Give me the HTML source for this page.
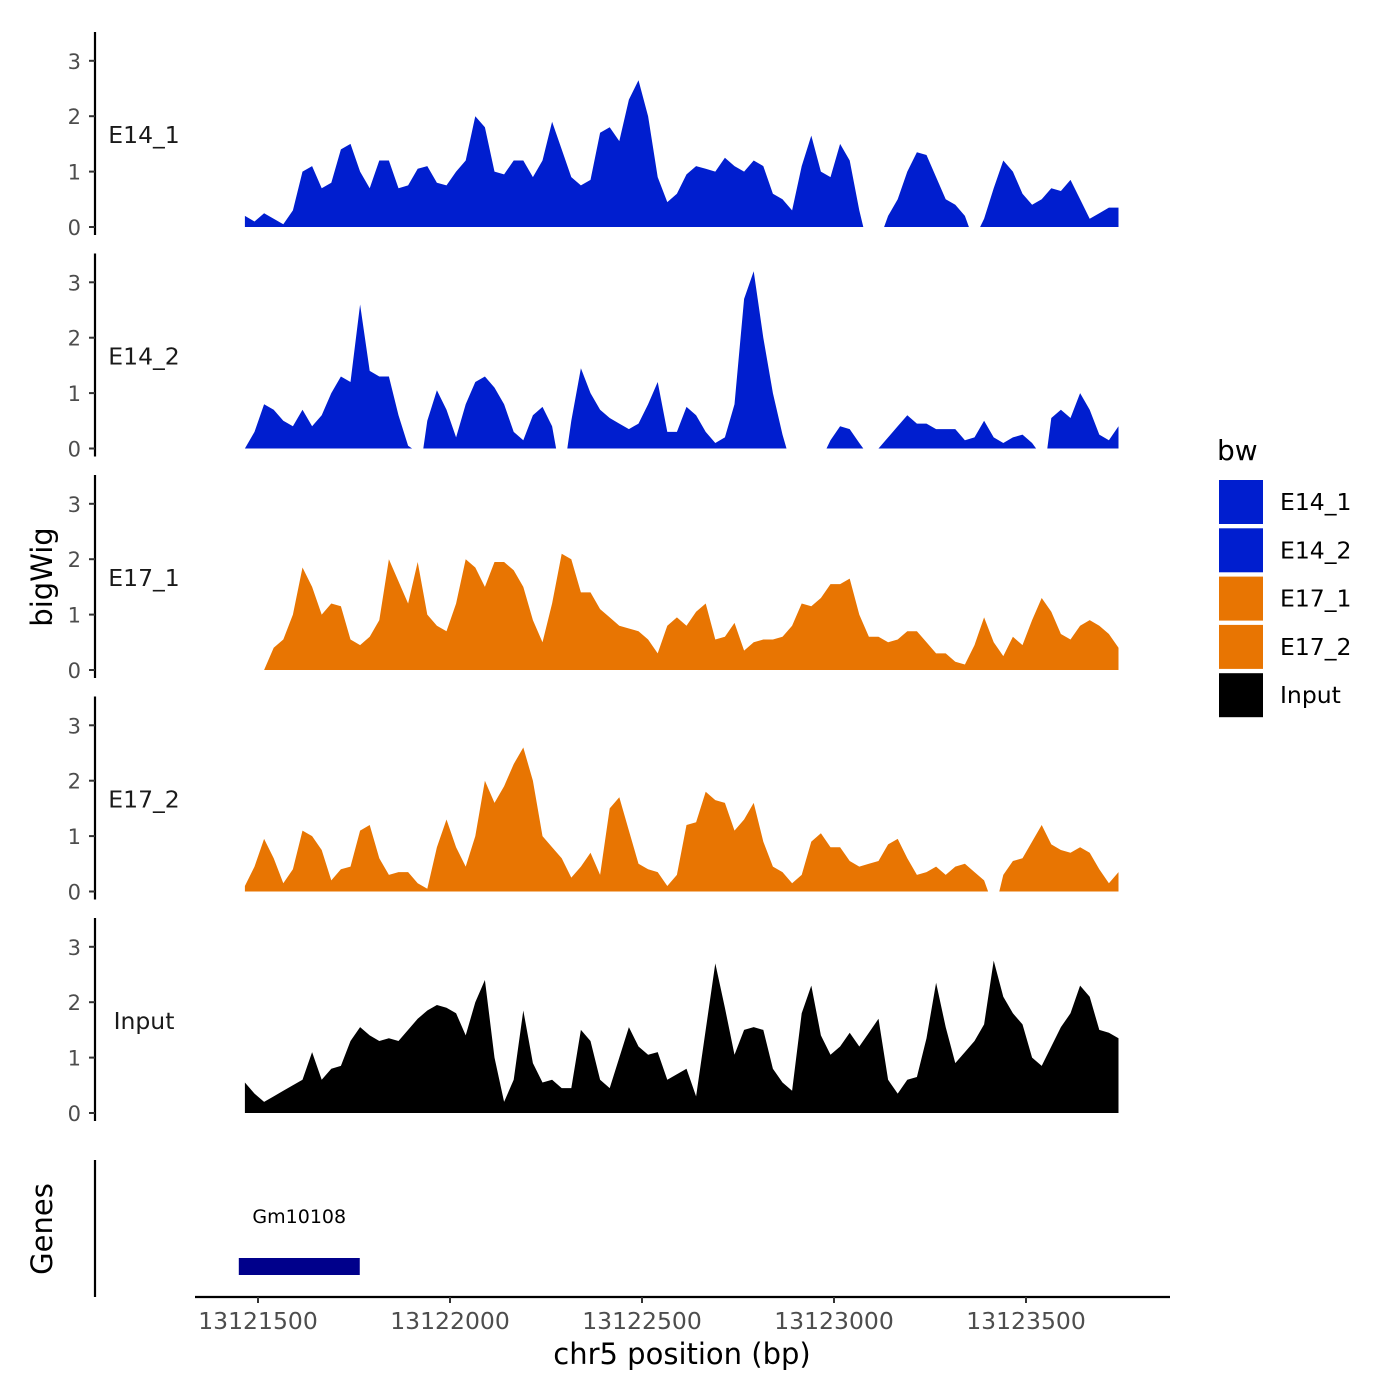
<!DOCTYPE html>
<html><head><meta charset="utf-8"><style>
body{margin:0;background:#fff}
svg{display:block;font-family:"DejaVu Sans","Liberation Sans",sans-serif}
</style></head><body>
<svg id="chart" width="1400" height="1400" viewBox="0 0 1400 1400"></svg>
<script>
const binStart = 13121466;
const binStep = 25;
const samples = ["E14_1","E14_2","E17_1","E17_2","Input"];
const colors = ["#001ECF","#001ECF","#E87502","#E87502","#000000"];
const yTicks = [0,1,2,3];
const xTicks = [13121500,13122000,13122500,13123000,13123500];
const geneStart = 13121450, geneEnd = 13121765, geneName = "Gm10108";
const e14_1 = [0.2,0.1,0.25,0.15,0.05,0.3,1.0,1.1,0.7,0.8,1.4,1.5,1.0,0.7,1.2,1.2,0.7,0.75,1.05,1.1,0.8,0.75,1.0,1.2,2.0,1.8,1.0,0.95,1.2,1.2,0.9,1.2,1.9,1.4,0.9,0.75,0.85,1.7,1.8,1.55,2.3,2.65,2.0,0.9,0.45,0.6,0.95,1.1,1.05,1.0,1.25,1.1,1.0,1.2,1.1,0.6,0.5,0.3,1.1,1.65,1.0,0.9,1.5,1.2,0.3,null,null,0.2,0.5,1.0,1.35,1.3,0.9,0.5,0.4,0.2,null,0.15,0.7,1.2,1.0,0.6,0.4,0.5,0.7,0.65,0.85,0.5,0.15,0.25,0.35,0.35];
const e14_2 = [0,0.3,0.8,0.7,0.5,0.4,0.7,0.4,0.6,1.0,1.3,1.2,2.6,1.4,1.3,1.3,0.6,0.05,null,0.5,1.05,0.7,0.2,0.8,1.2,1.3,1.1,0.8,0.3,0.15,0.6,0.75,0.4,null,0.5,1.45,1.0,0.7,0.55,0.45,0.35,0.45,0.8,1.2,0.3,0.3,0.75,0.6,0.3,0.1,0.2,0.8,2.7,3.2,2.0,1.0,0.25,null,null,null,null,0.15,0.4,0.35,0.1,null,0,0.2,0.4,0.6,0.45,0.45,0.35,0.35,0.35,0.15,0.2,0.5,0.2,0.1,0.2,0.25,0.1,null,0.55,0.7,0.55,1.0,0.7,0.25,0.15,0.4];
const e17_1 = [0.25,null,0,0.4,0.55,1.0,1.85,1.5,1.0,1.2,1.15,0.55,0.45,0.6,0.9,2.0,1.6,1.2,1.95,1.0,0.8,0.7,1.2,2.0,1.85,1.5,1.95,1.95,1.8,1.5,0.9,0.5,1.2,2.1,2.0,1.4,1.4,1.1,0.95,0.8,0.75,0.7,0.55,0.3,0.8,0.95,0.8,1.05,1.2,0.55,0.6,0.85,0.35,0.5,0.55,0.55,0.6,0.8,1.2,1.15,1.3,1.55,1.55,1.65,1.0,0.6,0.6,0.5,0.55,0.7,0.7,0.5,0.3,0.3,0.15,0.1,0.45,0.95,0.5,0.25,0.6,0.45,0.9,1.3,1.05,0.65,0.55,0.8,0.9,0.8,0.65,0.4];
const e17_2 = [0.1,0.45,0.95,0.6,0.15,0.4,1.1,1.0,0.75,0.2,0.4,0.45,1.1,1.2,0.6,0.3,0.35,0.35,0.15,0.05,0.8,1.3,0.8,0.45,1.0,2.0,1.6,1.9,2.3,2.6,2.0,1.0,0.8,0.6,0.25,0.45,0.7,0.3,1.5,1.7,1.1,0.5,0.4,0.35,0.1,0.3,1.2,1.25,1.8,1.65,1.6,1.1,1.3,1.6,0.9,0.45,0.35,0.15,0.3,0.9,1.05,0.8,0.8,0.55,0.45,0.5,0.55,0.85,0.95,0.6,0.3,0.35,0.45,0.3,0.45,0.5,0.35,0.2,null,0.3,0.55,0.6,0.9,1.2,0.85,0.75,0.7,0.8,0.7,0.4,0.15,0.35];
const input = [0.55,0.35,0.2,0.3,0.4,0.5,0.6,1.1,0.6,0.8,0.85,1.3,1.55,1.4,1.3,1.35,1.3,1.5,1.7,1.85,1.95,1.9,1.8,1.4,2.0,2.4,1.0,0.2,0.6,1.85,0.9,0.55,0.6,0.45,0.45,1.5,1.3,0.6,0.45,1.0,1.55,1.2,1.05,1.1,0.6,0.7,0.8,0.3,1.5,2.7,1.9,1.05,1.5,1.55,1.5,0.8,0.55,0.4,1.8,2.3,1.4,1.05,1.2,1.45,1.2,1.45,1.7,0.6,0.35,0.6,0.65,1.35,2.35,1.55,0.9,1.1,1.3,1.6,2.75,2.1,1.8,1.6,1.0,0.85,1.2,1.55,1.8,2.3,2.1,1.5,1.45,1.35];
const series = [e14_1,e14_2,e17_1,e17_2,input];

const NS="http://www.w3.org/2000/svg";
const svg=document.getElementById('chart');
function mk(tag,attrs,parent){const e=document.createElementNS(NS,tag);for(const k in attrs)e.setAttribute(k,attrs[k]);(parent||svg).appendChild(e);return e;}
const xs = bp => 258 + (bp-13121500)*0.384;
const unit = 55.4;
const panelY0 = k => 227 + 221.5*k;
const pad = 4;

samples.forEach((name,k)=>{
  const g=mk('g',{});
  
  
  const y0=panelY0(k);
  const ys=v=>y0-v*unit;
  const ax=mk('line',{x1:95,x2:95,y1:y0-195,y2:y0+8,stroke:'#000','stroke-width':2.2},g);
  
  
  yTicks.forEach(t=>{
    const tk=mk('line',{x1:89,x2:95,y1:ys(t),y2:ys(t),stroke:'#333','stroke-width':2},g);
    
    
    const tl=mk('text',{x:81,y:ys(t)+8,'text-anchor':'end','font-size':21,fill:'#4d4d4d'},g);
    tl.textContent=t;
    
    
  });
  const lab=mk('text',{x:144,y:y0-84,'text-anchor':'middle','font-size':23.5,fill:'#1a1a1a'},g);
  lab.textContent=name;
  
  
  const vals=series[k];
  let seg=[], afterNull=false;
  const flush=(endPad)=>{
    if(seg.length>1){
      const first=seg[0][0], last=seg[seg.length-1][0];
      let d='M'+first.toFixed(1)+','+y0;
      seg.forEach(p=>{d+=' L'+p[0].toFixed(1)+','+p[1].toFixed(1);});
      d+=' L'+(last+endPad).toFixed(1)+','+y0+' Z';
      const p=mk('path',{d:d,fill:colors[k]},g);
      
      
    }
    seg=[];
  };
  vals.forEach((v,i)=>{
    if(v===null){flush(pad);afterNull=true;return;}
    const x=xs(binStart+i*binStep);
    if(afterNull){seg.push([x-pad,y0]);afterNull=false;}
    seg.push([x,ys(v)]);
  });
  flush(0);
});

const yt=mk('text',{x:0,y:0,'font-size':29,'text-anchor':'middle',transform:'translate(52,577) rotate(-90)',fill:'#000'});
yt.textContent='bigWig';



const gl=mk('line',{x1:95,x2:95,y1:1160,y2:1297,stroke:'#000','stroke-width':2.2});


const gt=mk('text',{x:0,y:0,'font-size':29,'text-anchor':'middle',transform:'translate(52,1229) rotate(-90)',fill:'#000'});
gt.textContent='Genes';


const gb=mk('rect',{x:xs(geneStart),y:1258,width:xs(geneEnd)-xs(geneStart),height:17,fill:'#00008B'});


const gn=mk('text',{x:(xs(geneStart)+xs(geneEnd))/2,y:1223,'text-anchor':'middle','font-size':19,fill:'#000'});
gn.textContent=geneName;



const xl=mk('line',{x1:195,x2:1170,y1:1297,y2:1297,stroke:'#000','stroke-width':2.2});


xTicks.forEach(t=>{
  const tk=mk('line',{x1:xs(t),x2:xs(t),y1:1297,y2:1303,stroke:'#333','stroke-width':2});
  
  
  const tl=mk('text',{x:xs(t),y:1329,'text-anchor':'middle','font-size':23.5,fill:'#4d4d4d'});
  tl.textContent=t;
  
  
});
const xt=mk('text',{x:682,y:1364,'text-anchor':'middle','font-size':29,fill:'#000'});
xt.textContent='chr5 position (bp)';



const lg=mk('g',{});


const ltitle=mk('text',{x:1217,y:460,'font-size':28,fill:'#000'},lg);
ltitle.textContent='bw';


samples.forEach((s,i)=>{
  const y=479+i*48.3;
  const r=mk('rect',{x:1218,y:y,width:46,height:46,fill:colors[i],stroke:'#fff','stroke-width':2},lg);
  
  
  const t=mk('text',{x:1280,y:y+31,'font-size':23.5,fill:'#000'},lg);
  t.textContent=s;
  
  
});
</script>
</body></html>
